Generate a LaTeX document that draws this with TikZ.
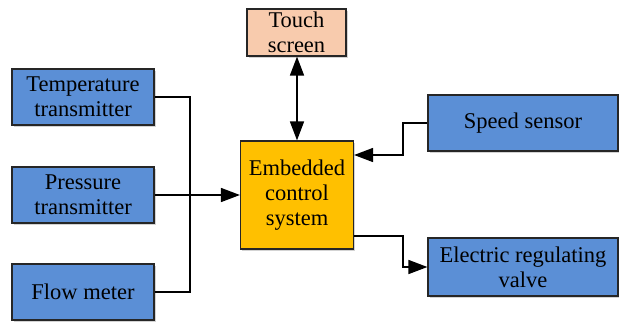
\documentclass[tikz,border=0pt]{standalone}
\usepackage{fontspec}
\setmainfont{Liberation Serif}
\usetikzlibrary{arrows.meta,shadows}
\definecolor{boxblue}{HTML}{5B8FD6}
\definecolor{boxorange}{HTML}{FFC000}
\definecolor{boxpeach}{HTML}{F8CBAD}
\tikzset{
  blk/.style={draw=black!85, line width=1.2pt, inner sep=0pt, align=center,
    font=\rmfamily\fontsize{22.5}{25}\selectfont, drop shadow={shadow xshift=1.5pt, shadow yshift=-1.5pt, opacity=0.35}},
  bluebox/.style={blk, fill=boxblue, minimum width=142pt, minimum height=56pt},
  conn/.style={line width=1.6pt, -{Triangle[length=19pt, width=14pt]}},
  plainconn/.style={line width=1.6pt}
}
\begin{document}
\begin{tikzpicture}[x=1pt,y=-1pt]
\useasboundingbox (0,0) rectangle (619,322);
\node[bluebox] (temp) at (83,97) {Temperature\\transmitter};
\node[bluebox] (press) at (83,195) {Pressure\\transmitter};
\node[bluebox] (flow) at (83,292) {Flow meter};
\node[blk, fill=boxpeach, minimum width=99pt, minimum height=47pt] (touch) at (296.5,32.5) {Touch\\screen};
\node[blk, fill=boxorange, minimum width=113pt, minimum height=108pt] (emb) at (297,195) {Embedded\\control\\system};
\node[bluebox, minimum width=190pt, minimum height=56pt] (speed) at (523,123) {Speed sensor};
\node[bluebox, minimum width=190pt, minimum height=58pt] (valve) at (523,267) {Electric regulating\\valve};
\coordinate (j) at (190,195);
\draw[plainconn] (temp.east) -| (j);
\draw[plainconn] (flow.east) -| (j);
\draw[conn] (press.east) -- (emb.west);
\draw[line width=1.6pt, {Triangle[length=19pt, width=14pt]}-{Triangle[length=19pt, width=14pt]}] (touch.south -| emb.north) -- (emb.north);
\coordinate (s1) at (403,123);
\coordinate (s2) at (403,155);
\draw[conn] (speed.west) -- (s1) -- (s2) -- (s2 -| emb.east);
\coordinate (v1) at (403,236);
\coordinate (v2) at (403,267);
\draw[conn] (v1 -| emb.east) -- (v1) -- (v2) -- (v2 -| valve.west);
\end{tikzpicture}
\end{document}
